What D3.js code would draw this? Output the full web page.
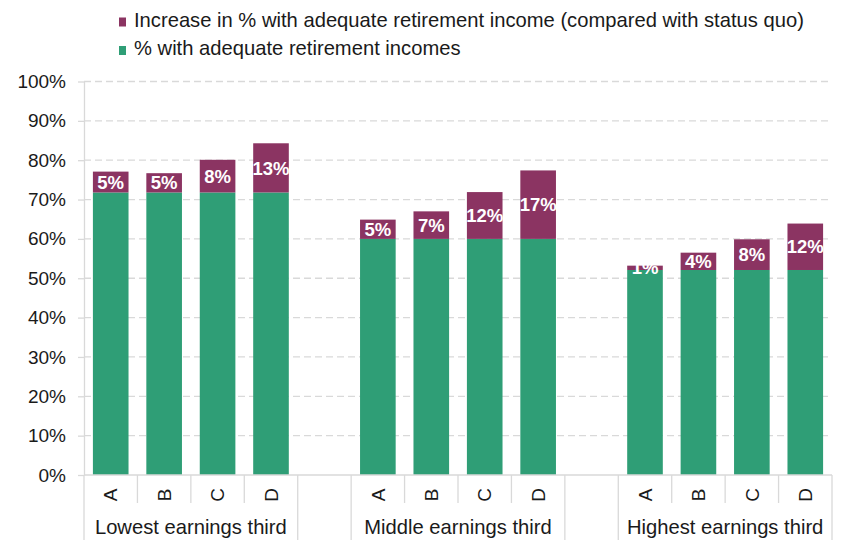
<!DOCTYPE html>
<html>
<head>
<meta charset="utf-8">
<script src="https://cdn.jsdelivr.net/npm/d3@7"></script>
<style>
  body { margin: 0; background: #fff; }
  text { font-family: "Liberation Sans", Arial, sans-serif; fill: #1a1a1a; }
</style>
</head>
<body>
<div id="chart"></div>
<script>
// data
const groups = ["Lowest earnings third", "Middle earnings third", "Highest earnings third"];
const options = ["A", "B", "C", "D"];
const baseByGroup = [71.8, 60.0, 52.1];
const increaseByGroup = [
  [5.3, 4.9, 8.3, 12.5],
  [4.9, 7.0, 11.9, 17.4],
  [1.1, 4.4, 7.8, 11.8]
];
const yTicks = [0, 10, 20, 30, 40, 50, 60, 70, 80, 90, 100];
const legendLabels = [
  "Increase in % with adequate retirement income (compared with status quo)",
  "% with adequate retirement incomes"
];

const colGreen = "#2f9e76", colPurple = "#8b3462", colGrid = "#d9d9d9";

const W = 848, H = 549;
const x0 = 84, x1 = 832, yBottom = 475, yTop = 81.5;

const svg = d3.select("#chart").append("svg")
  .attr("width", W)
  .attr("height", H);

// slots: 4 bars per group with an empty slot between groups
const slots = [];
groups.forEach((g, gi) => {
  options.forEach((o, oi) => slots.push({key: gi + "-" + o, group: gi, opt: oi}));
  if (gi < groups.length - 1) slots.push({key: "gap" + gi, gap: true});
});

const x = d3.scaleBand()
  .domain(slots.map(d => d.key))
  .range([x0, x1])
  .padding(0);

const y = d3.scaleLinear()
  .domain([0, 100])
  .range([yBottom, yTop]);

// gridlines
svg.append("g")
  .selectAll("line")
  .data(yTicks.filter(d => d > 0))
  .join("line")
    .attr("x1", x0)
    .attr("x2", x1)
    .attr("y1", d => y(d))
    .attr("y2", d => y(d))
    .attr("stroke", colGrid)
    .attr("stroke-width", 1.3)
    .attr("stroke-dasharray", "7,4");

// y axis
const yAxis = svg.append("g")
  .attr("transform", `translate(${x0},0)`)
  .call(d3.axisLeft(y).tickValues(yTicks).tickFormat(d => d + "%").tickSize(6).tickSizeOuter(0).tickPadding(12));
yAxis.select(".domain").attr("stroke", colGrid).attr("stroke-width", 1.3);
yAxis.selectAll(".tick line").attr("stroke", colGrid).attr("stroke-width", 1.3);
yAxis.selectAll(".tick text")
  .style("font-size", "19px")
  .attr("fill", "#1a1a1a");

// bars
const barW = x.bandwidth() / 1.5;
const bars = [];
slots.filter(s => !s.gap).forEach(s => {
  const base = baseByGroup[s.group];
  const inc = increaseByGroup[s.group][s.opt];
  bars.push({key: s.key, base: base, inc: inc});
});

svg.append("g")
  .selectAll("rect")
  .data(bars)
  .join("rect")
    .attr("x", d => x(d.key) + (x.bandwidth() - barW) / 2)
    .attr("width", barW)
    .attr("y", d => y(d.base))
    .attr("height", d => y(0) - y(d.base))
    .attr("fill", colGreen);

svg.append("g")
  .selectAll("rect")
  .data(bars)
  .join("rect")
    .attr("x", d => x(d.key) + (x.bandwidth() - barW) / 2)
    .attr("width", barW)
    .attr("y", d => y(d.base + d.inc))
    .attr("height", d => y(d.base) - y(d.base + d.inc))
    .attr("fill", colPurple);

// x axis baseline
svg.append("line")
  .attr("x1", x0).attr("x2", x1)
  .attr("y1", yBottom).attr("y2", yBottom)
  .attr("stroke", colGrid)
  .attr("stroke-width", 1.3);

// increase labels
svg.append("g")
  .selectAll("text")
  .data(bars)
  .join("text")
    .attr("x", d => x(d.key) + x.bandwidth() / 2)
    .attr("y", d => (y(d.base) + y(d.base + d.inc)) / 2)
    .attr("text-anchor", "middle")
    .attr("dy", "0.36em")
    .style("font-size", "18.5px")
    .style("font-weight", "bold")
    .style("fill", "#fff")
    .text(d => Math.round(d.inc) + "%");

// category separators
const axisG = svg.append("g");
slots.forEach((s, i) => {
  const left = x(s.key);
  const prev = slots[i - 1];
  const tall = i === 0 || s.gap || (prev && prev.gap);
  axisG.append("line")
    .attr("x1", left).attr("x2", left)
    .attr("y1", yBottom).attr("y2", tall ? 540 : 503)
    .attr("stroke", colGrid).attr("stroke-width", 1.3);
});
axisG.append("line")
  .attr("x1", x1).attr("x2", x1)
  .attr("y1", yBottom).attr("y2", 540)
  .attr("stroke", colGrid).attr("stroke-width", 1.3);

// option letters (rotated)
axisG.selectAll("text.opt")
  .data(slots.filter(s => !s.gap))
  .join("text")
    .attr("class", "opt")
    .attr("transform", d => `translate(${x(d.key) + x.bandwidth() / 2},495) rotate(-90)`)
    .attr("text-anchor", "middle")
    .attr("dy", "0.35em")
    .style("font-size", "19px")
    .text(d => options[d.opt]);

// group labels
axisG.selectAll("text.grp")
  .data(groups)
  .join("text")
    .attr("class", "grp")
    .attr("x", (g, gi) => (x(gi + "-A") + x(gi + "-D") + x.bandwidth()) / 2)
    .attr("y", 534)
    .attr("text-anchor", "middle")
    .style("font-size", "20.2px")
    .text(g => g);

// legend
const legend = svg.append("g");
legendLabels.forEach((t, i) => {
  const ly = 26.5 + i * 28.5;
  legend.append("rect")
    .attr("x", 119).attr("y", ly - 9)
    .attr("width", 7).attr("height", 9)
    .attr("fill", i === 0 ? colPurple : colGreen);
  legend.append("text")
    .attr("x", 134).attr("y", ly)
    .style("font-size", "20.2px")
    .text(t);
});
</script>
</body>
</html>
